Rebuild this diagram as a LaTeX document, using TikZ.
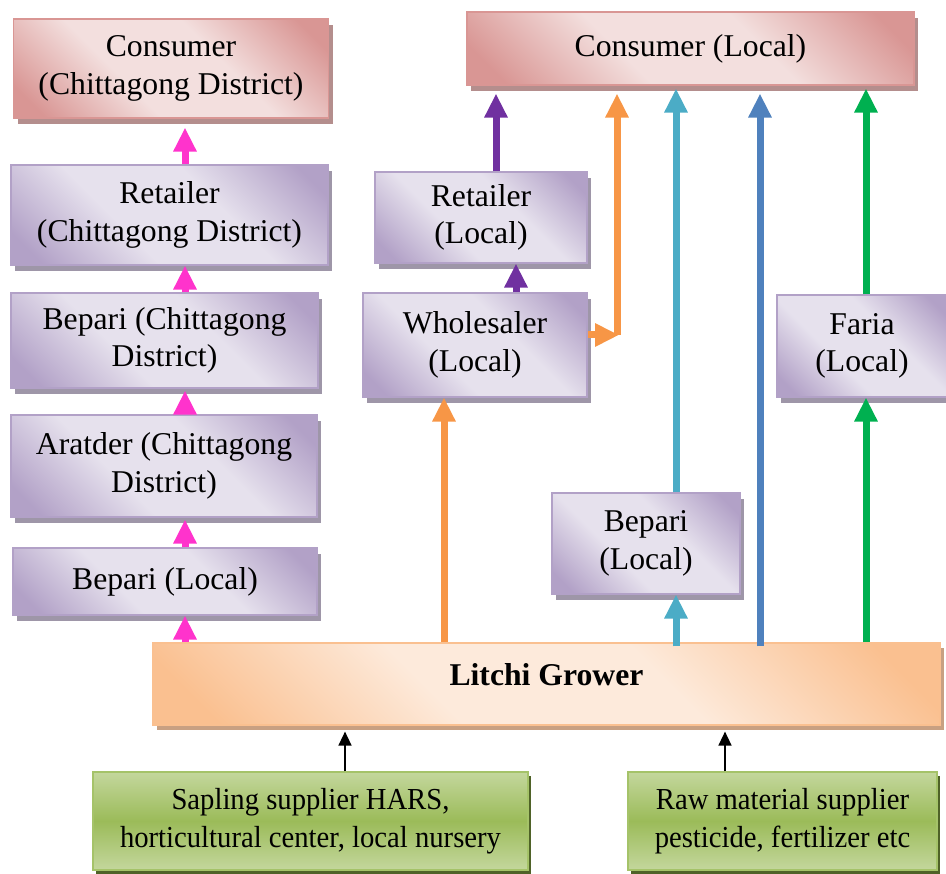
\documentclass[tikz,border=0pt]{standalone}
\usepackage{fontspec}
\setmainfont{Liberation Serif}
\newfontfamily\narrowserif[FakeStretch=0.94]{Liberation Serif}
\usetikzlibrary{arrows.meta,shadows}

% box fills
\definecolor{pkD}{RGB}{217,150,148}
\definecolor{pkL}{RGB}{243,223,222}
\definecolor{pkS}{RGB}{180,142,141}
\definecolor{puD}{RGB}{178,161,199}
\definecolor{puL}{RGB}{230,225,237}
\definecolor{puS}{RGB}{158,150,168}
\definecolor{peD}{RGB}{250,192,144}
\definecolor{peL}{RGB}{253,234,219}
\definecolor{peS}{RGB}{200,160,130}
\definecolor{grL}{RGB}{196,215,157}
\definecolor{grD}{RGB}{155,187,89}
\definecolor{grB}{RGB}{165,195,105}
\definecolor{grS}{RGB}{79,98,40}
% connector colours
\definecolor{cPink}{RGB}{255,51,204}
\definecolor{cPurple}{RGB}{112,48,160}
\definecolor{cOrange}{RGB}{247,150,70}
\definecolor{cCyan}{RGB}{75,172,198}
\definecolor{cBlue}{RGB}{79,129,189}
\definecolor{cGreen}{RGB}{0,176,80}

\pgfdeclarehorizontalshading{pinkdiag}{100bp}{color(0bp)=(pkD); color(20bp)=(pkD); color(40bp)=(pkL); color(60bp)=(pkL); color(80bp)=(pkD); color(100bp)=(pkD)}
\pgfdeclarehorizontalshading{purplediag}{100bp}{color(0bp)=(puD); color(20bp)=(puD); color(40bp)=(puL); color(60bp)=(puL); color(80bp)=(puD); color(100bp)=(puD)}
\pgfdeclarehorizontalshading{peachdiag}{100bp}{color(0bp)=(peD); color(20bp)=(peD); color(40bp)=(peL); color(60bp)=(peL); color(80bp)=(peD); color(100bp)=(peD)}
\pgfdeclareverticalshading{greenband}{100bp}{color(0bp)=(grL); color(25bp)=(grL); color(50bp)=(grD); color(75bp)=(grL); color(100bp)=(grL)}

\tikzset{
  boxbase/.style={rectangle, inner sep=0pt, align=center, line width=1.2pt,
    font=\fontsize{31.7}{37.4}\selectfont},
  pinkbox/.style={boxbase, draw=pkD, shading=pinkdiag, shading angle=45,
    drop shadow={shadow xshift=4pt, shadow yshift=-6pt, fill=pkS, opacity=1}},
  purplebox/.style={boxbase, draw=puD, shading=purplediag, shading angle=45,
    drop shadow={shadow xshift=4pt, shadow yshift=-6pt, fill=puS, opacity=1}},
  peachbox/.style={boxbase, draw=peD, shading=peachdiag, shading angle=45,
    drop shadow={shadow xshift=4pt, shadow yshift=-5pt, fill=peS, opacity=1}},
  greenbox/.style={boxbase, draw=grB, shading=greenband,
    font=\narrowserif\fontsize{30.5}{38}\selectfont,
    drop shadow={shadow xshift=3pt, shadow yshift=-4pt, fill=grS, opacity=1}},
  flow/.style={line width=7pt, -{Triangle[width=22pt,length=24pt]}},
  feed/.style={line width=1.5pt, black, -{Triangle[width=13pt,length=14pt]}},
}

\begin{document}
\begin{tikzpicture}[x=1pt, y=-1pt]
\useasboundingbox (0,0) rectangle (946,874);

% lanes along which the connectors run
\coordinate (lanePink)  at (185,0);
\coordinate (lanePurA)  at (496,0);
\coordinate (lanePurB)  at (516,0);
\coordinate (laneOrA)   at (444,0);
\coordinate (orCorner)  at (617,335);
\coordinate (laneCyan)  at (676,0);
\coordinate (laneBlue)  at (760,0);
\coordinate (laneGreen) at (866,0);
\coordinate (laneBlkA)  at (345,0);
\coordinate (laneBlkB)  at (725,0);

% left column: Chittagong district chain
\node[pinkbox,   minimum width=315pt, minimum height=99pt]  (cC) at (171,68.5)  {Consumer\\(Chittagong District)};
\node[purplebox, minimum width=317pt, minimum height=100pt] (rC) at (169.5,215) {Retailer\\(Chittagong District)};
\node[purplebox, minimum width=307pt, minimum height=95pt]  (bC) at (164.5,340.5) {Bepari (Chittagong\\District)};
\node[purplebox, minimum width=306pt, minimum height=102pt] (aC) at (164,466)   {Aratder (Chittagong\\District)};
\node[purplebox, minimum width=304pt, minimum height=67pt]  (bL) at (165,581.5) {Bepari (Local)};

% local market
\node[pinkbox,   minimum width=447pt, minimum height=73pt]  (cL) at (690.5,48.5) {Consumer (Local)};
\node[purplebox, minimum width=212pt, minimum height=91pt]  (rL) at (481,217.5)  {Retailer\\(Local)};
\node[purplebox, minimum width=224pt, minimum height=104pt] (wL) at (475,345)    {Wholesaler\\(Local)};
\node[purplebox, minimum width=170pt, minimum height=102pt] (fL) at (862,346)    {Faria\\(Local)};
\node[purplebox, minimum width=188pt, minimum height=101pt] (bR) at (646,543.5)  {Bepari\\(Local)};

% grower and suppliers
\node[peachbox, minimum width=787pt, minimum height=82pt, text height=12pt, text depth=10pt]
  (grow) at (546.5,684) {\bfseries Litchi Grower};
\node[greenbox, minimum width=435pt, minimum height=98pt] (sap) at (310.5,821)
  {Sapling supplier HARS,\\horticultural center, local nursery};
\node[greenbox, minimum width=309pt, minimum height=98pt] (raw) at (782.5,821)
  {Raw material supplier\\pesticide, fertilizer etc};

% Chittagong chain
\draw[flow, cPink] (grow.north -| lanePink) -- (bL.south -| lanePink);
\draw[flow, cPink] (bL.north -| lanePink) -- ([yshift=-2pt]aC.south -| lanePink);
\draw[flow, cPink] (aC.north -| lanePink) -- ([yshift=-2pt]bC.south -| lanePink);
\draw[flow, cPink] (bC.north -| lanePink) -- (rC.south -| lanePink);
\draw[flow, cPink, shorten >=9pt] (rC.north -| lanePink) -- (cC.south -| lanePink);

% wholesaler and retailer route
\draw[flow, cOrange] (grow.north -| laneOrA) -- (wL.south -| laneOrA);
\draw[flow, cPurple] (wL.north -| lanePurB) -- (rL.south -| lanePurB);
\draw[flow, cPurple, shorten >=8pt] (rL.north -| lanePurA) -- (cL.south -| lanePurA);
\draw[flow, cOrange] (wL.east |- orCorner) -- ([xshift=2pt]orCorner);
\draw[flow, cOrange, shorten >=8pt] (orCorner) -- (cL.south -| orCorner);

% bepari, direct and faria routes
\draw[flow, cCyan] ([yshift=-4pt]grow.north -| laneCyan) -- (bR.south -| laneCyan);
\draw[flow, cCyan, shorten >=3pt] (bR.north -| laneCyan) -- (cL.south -| laneCyan);
\draw[flow, cBlue, shorten >=8pt] ([yshift=-4pt]grow.north -| laneBlue) -- (cL.south -| laneBlue);
\draw[flow, cGreen] (grow.north -| laneGreen) -- (fL.south -| laneGreen);
\draw[flow, cGreen, shorten >=3pt] (fL.north -| laneGreen) -- (cL.south -| laneGreen);

% inputs
\draw[feed, shorten >=6pt] (sap.north -| laneBlkA) -- (grow.south -| laneBlkA);
\draw[feed, shorten >=6pt] (raw.north -| laneBlkB) -- (grow.south -| laneBlkB);
\end{tikzpicture}
\end{document}
